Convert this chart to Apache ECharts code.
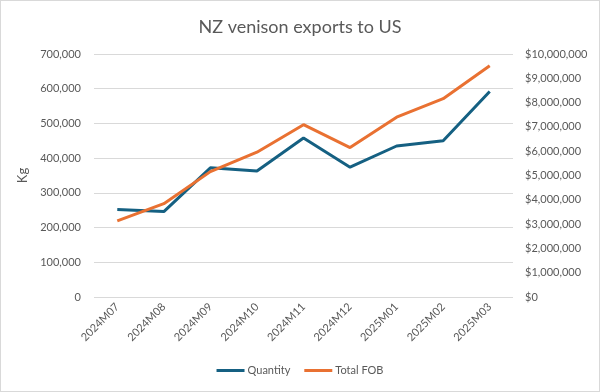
<!DOCTYPE html>
<html>
<head>
<meta charset="utf-8">
<script src="https://cdn.jsdelivr.net/npm/echarts@6/dist/echarts.min.js"></script>
<style>
html,body{margin:0;padding:0;background:#fff;}
#c{width:598px;height:390px;border:1px solid #d9d9d9;}
</style>
</head>
<body>
<div id="c"></div>
<script>
const categories = ['2024M07','2024M08','2024M09','2024M10','2024M11','2024M12','2025M01','2025M02','2025M03'];
const quantity = [252000, 246000, 372000, 363000, 458000, 374000, 435000, 450000, 592000];
const totalFob = [3130000, 3840000, 5160000, 5960000, 7090000, 6150000, 7400000, 8160000, 9520000];

const chart = echarts.init(document.getElementById('c'));
const gray = '#595959';
const font = 'Lato, "Open Sans", sans-serif';
chart.setOption({
  animation: false,
  title: {
    text: 'NZ venison exports to US',
    left: 'center', top: 12,
    textStyle: {color: gray, fontSize: 18, fontWeight: 'normal', fontFamily: font}
  },
  legend: {
    bottom: 10, left: 'center',
    itemWidth: 28, itemHeight: 3, itemGap: 14,
    icon: 'rect',
    textStyle: {color: gray, fontSize: 11, fontFamily: font, padding: [0, 0, 0, -2]},
    data: ['Quantity', 'Total FOB']
  },
  grid: {left: 93, right: 86, top: 53, bottom: 94},
  xAxis: {
    type: 'category', data: categories, boundaryGap: true,
    axisLine: {show: false}, axisTick: {show: false},
    axisLabel: {rotate: 45, color: gray, fontSize: 11, fontFamily: font, margin: 8, interval: 0}
  },
  yAxis: [{
    type: 'value', min: 0, max: 700000, interval: 100000,
    name: 'Kg', nameLocation: 'middle', nameGap: 57, nameRotate: 90,
    nameTextStyle: {color: gray, fontSize: 13, fontFamily: font},
    axisLine: {show: false}, axisTick: {show: false},
    axisLabel: {color: gray, fontSize: 11, fontFamily: font, margin: 13,
      formatter: v => v.toLocaleString('en-US')},
    splitLine: {lineStyle: {color: '#d9d9d9', width: 1}}
  }, {
    type: 'value', min: 0, max: 10000000, interval: 1000000,
    axisLine: {show: false}, axisTick: {show: false},
    axisLabel: {color: gray, fontSize: 11, fontFamily: font, margin: 12,
      formatter: v => '$' + v.toLocaleString('en-US')},
    splitLine: {show: false}
  }],
  series: [{
    name: 'Quantity', type: 'line', data: quantity, yAxisIndex: 0,
    symbol: 'none', lineStyle: {color: '#156082', width: 3}, itemStyle: {color: '#156082'}
  }, {
    name: 'Total FOB', type: 'line', data: totalFob, yAxisIndex: 1,
    symbol: 'none', lineStyle: {color: '#E97132', width: 3}, itemStyle: {color: '#E97132'}
  }]
});
</script>
</body>
</html>
